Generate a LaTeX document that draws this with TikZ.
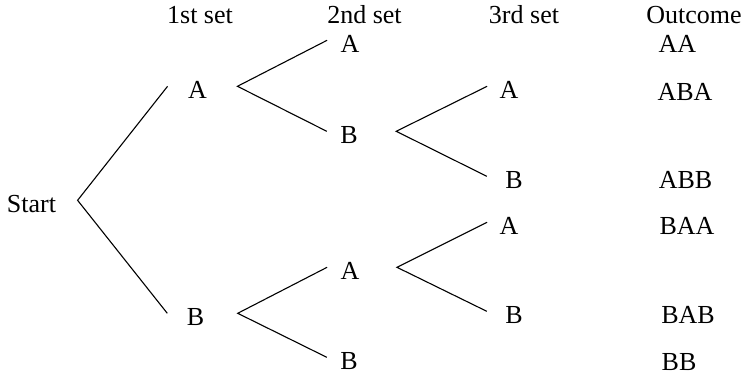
\documentclass[tikz,border=0pt]{standalone}
\usepackage{fontspec}
\setmainfont{Liberation Serif}
\begin{document}
\begin{tikzpicture}[x=1pt, y=-1pt, line width=1.1pt]
  \tikzset{lbl/.style={anchor=base, inner sep=0pt, text height=23.4pt, text depth=0pt, font=\fontsize{26}{30}\selectfont}}
  \useasboundingbox (0,0) rectangle (748,375);
  % column headings
  \node[lbl] (h1) at (200,23) {1st set};
  \node[lbl] (h2) at (364.5,23) {2nd set};
  \node[lbl] (h3) at (524,23) {3rd set};
  \node[lbl] (h4) at (694,23) {Outcome};
  % tree
  \node[lbl] (start) at (31.5,212) {Start};
  \node[lbl] (a) at (197.5,98) {A};
  \node[lbl] (b) at (195.5,325) {B};
  \node[lbl] (aa) at (350,52) {A};
  \node[lbl] (ab) at (349,143) {B};
  \node[lbl] (ba) at (350,279) {A};
  \node[lbl] (bb) at (349,369) {B};
  \node[lbl] (aba) at (509,98) {A};
  \node[lbl] (abb) at (514,188) {B};
  \node[lbl] (baa) at (509,234) {A};
  \node[lbl] (bab) at (514,323) {B};
  % outcomes
  \node[lbl] (oaa) at (677.5,52) {AA};
  \node[lbl] (oaba) at (685,100) {ABA};
  \node[lbl] (oabb) at (685.5,188) {ABB};
  \node[lbl] (obaa) at (687,234) {BAA};
  \node[lbl] (obab) at (688,323) {BAB};
  \node[lbl] (obb) at (679,370) {BB};
  % branches
  \draw ([xshift=-20pt]a.west) -- ([xshift=21pt]start.east) -- ([xshift=-19pt]b.west);
  \draw ([xshift=-13pt]aa.west) -- ([xshift=30pt]a.east) -- ([xshift=-13pt]ab.west);
  \draw ([xshift=-13pt]ba.west) -- ([xshift=33pt]b.east) -- ([xshift=-13pt]bb.west);
  \draw ([xshift=-12pt]aba.west) -- ([xshift=38pt]ab.east) -- ([xshift=-18pt]abb.west);
  \draw ([xshift=-12pt]baa.west) -- ([xshift=37pt]ba.east) -- ([xshift=-18pt]bab.west);
\end{tikzpicture}
\end{document}
